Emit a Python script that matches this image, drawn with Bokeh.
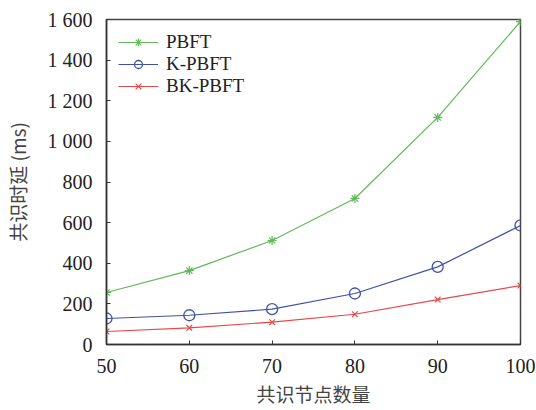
from bokeh.plotting import figure
from bokeh.models import Range1d, FixedTicker, Legend, LegendItem
from bokeh.embed import file_html
from bokeh.resources import INLINE

nodes = [50, 60, 70, 80, 90, 100]
pbft = [256, 364, 512, 719, 1118, 1590]
k_pbft = [128, 144, 174, 251, 382, 586]
bk_pbft = [64, 82, 110, 149, 221, 290]

y_ticks = [0, 200, 400, 600, 800, 1000, 1200, 1400, 1600]
y_tick_labels = ["0", "200", "400", "600", "800", "1 000", "1 200", "1 400", "1 600"]
x_ticks = [50, 60, 70, 80, 90, 100]

SERIF = "Liberation Serif"
CJK = "Noto Sans CJK SC"

p = figure(width=535, height=409, output_backend="svg", toolbar_location=None,
           x_range=Range1d(50, 100), y_range=Range1d(0, 1600),
           min_border_left=103, min_border_right=15, min_border_top=19, min_border_bottom=62)

green = "#62b95a"
blue = "#4152a6"
red = "#e5494b"

r1l = p.line(nodes, pbft, line_color=green, line_width=1.2)
r1m = p.scatter(nodes, pbft, marker="asterisk", size=9, line_color=green, line_width=1.2)
r2l = p.line(nodes, k_pbft, line_color=blue, line_width=1.2)
r2m = p.scatter(nodes, k_pbft, marker="circle", size=11, line_color=blue, fill_color=None, line_width=1.3)
r3l = p.line(nodes, bk_pbft, line_color=red, line_width=1.2)
r3m = p.scatter(nodes, bk_pbft, marker="x", size=8, line_color=red, line_width=1.2)

legend = Legend(items=[
    LegendItem(label="PBFT", renderers=[r1l, r1m]),
    LegendItem(label="K-PBFT", renderers=[r2l, r2m]),
    LegendItem(label="BK-PBFT", renderers=[r3l, r3m]),
], location="top_left")
legend.border_line_color = None
legend.background_fill_color = None
legend.background_fill_alpha = 0
legend.label_text_font = SERIF
legend.label_text_font_size = "19px"
legend.label_text_color = "#222222"
legend.glyph_width = 40
legend.glyph_height = 20
legend.label_height = 20
legend.spacing = 0
legend.padding = 2
legend.margin = 12
legend.label_standoff = 8
p.add_layout(legend)

p.xgrid.grid_line_color = None
p.ygrid.grid_line_color = None

p.outline_line_color = "#444444"
p.outline_line_width = 1.5

for ax in (p.xaxis[0], p.yaxis[0]):
    ax.axis_line_color = "#333333"
    ax.axis_line_width = 1.5
    ax.major_tick_in = 4
    ax.major_tick_out = 0
    ax.major_tick_line_color = "#333333"
    ax.minor_tick_line_color = None
    ax.major_label_text_font = SERIF
    ax.major_label_text_font_size = "20px"
    ax.major_label_text_color = "#222222"
    ax.axis_label_text_font = CJK
    ax.axis_label_text_font_size = "19px"
    ax.axis_label_text_font_style = "normal"
    ax.axis_label_text_color = "#444444"

p.xaxis[0].ticker = FixedTicker(ticks=x_ticks)
p.yaxis[0].ticker = FixedTicker(ticks=y_ticks)
p.yaxis[0].major_label_overrides = {t: l for t, l in zip(y_ticks, y_tick_labels)}
p.xaxis[0].axis_label = "共识节点数量"
p.yaxis[0].axis_label = "共识时延 (ms)"
p.xaxis[0].major_label_standoff = 14
p.yaxis[0].major_label_standoff = 14
p.xaxis[0].axis_label_standoff = 4
p.yaxis[0].axis_label_standoff = 14

open("out.html", "w").write(file_html(p, INLINE))
